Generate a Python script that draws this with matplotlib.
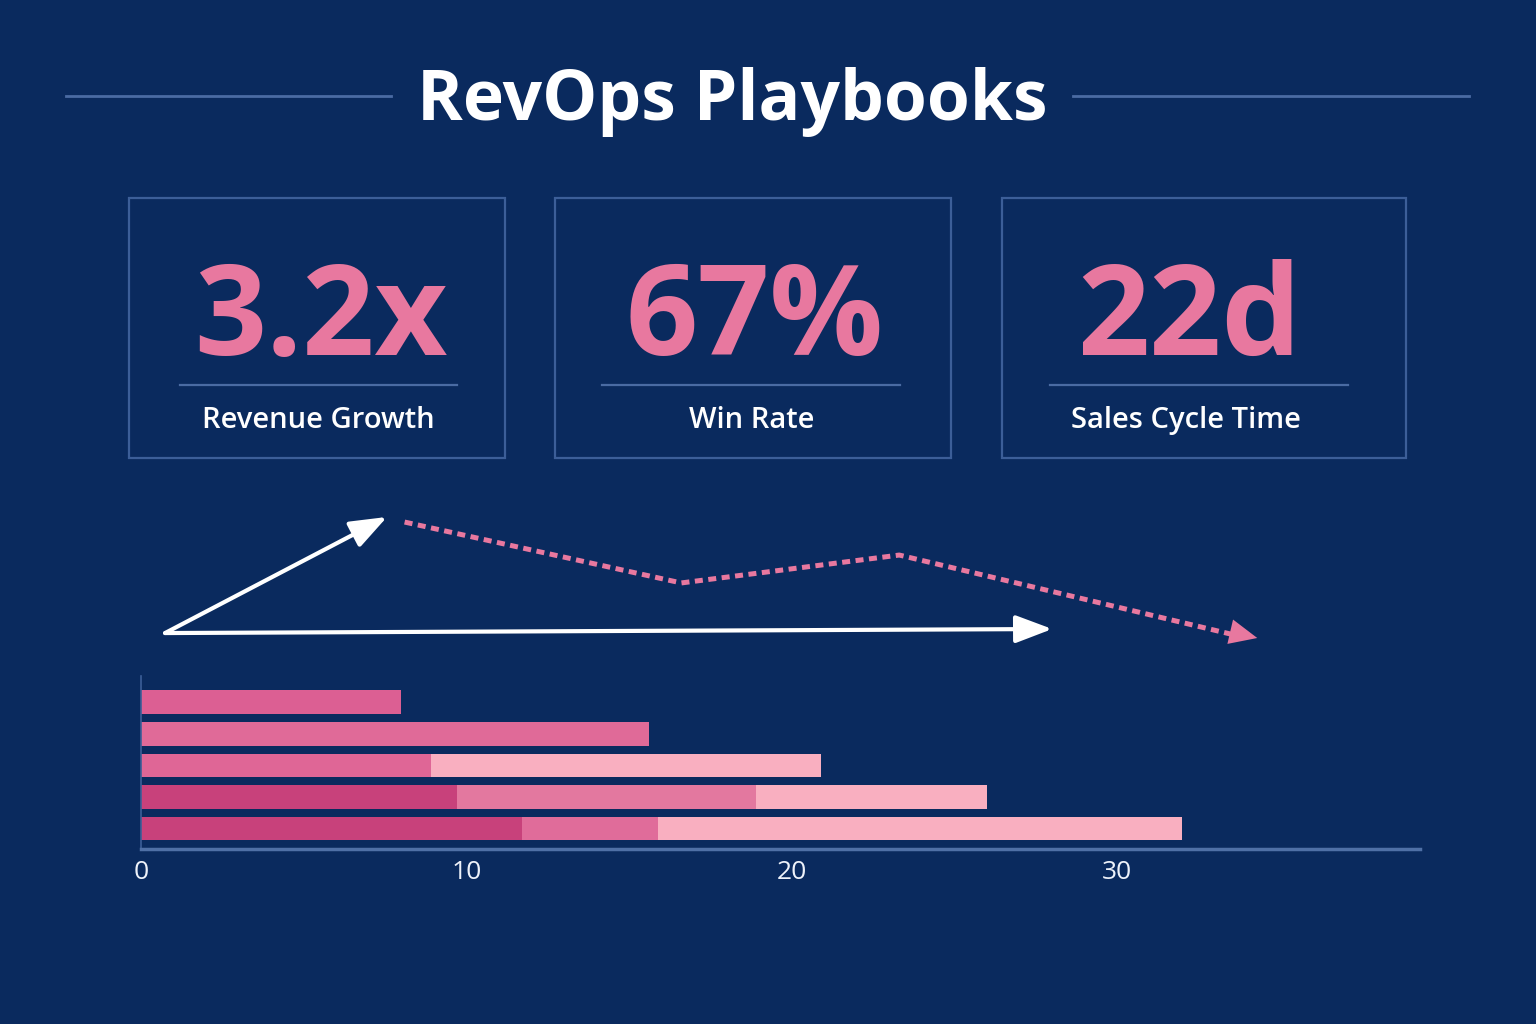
import numpy as np
import matplotlib.pyplot as plt
from matplotlib.patches import Rectangle

# colours
bg = '#0A2A5E'
rule = '#4A6BA3'
frame = '#3C5E98'
pink = '#E8789F'

title = 'RevOps Playbooks'

# KPI cards
kpi_values = ['3.2x', '67%', '22d']
kpi_labels = ['Revenue Growth', 'Win Rate', 'Sales Cycle Time']

# stacked bars, top row first
plays = ['Play 1', 'Play 2', 'Play 3', 'Play 4', 'Play 5']
stage1 = [8.0, 15.6, 8.9, 9.7, 11.7]
stage2 = [0, 0, 12.0, 9.2, 4.2]
stage3 = [0, 0, 0, 7.1, 16.1]
stage1_colors = ['#DC5F93', '#E06A98', '#DF6696', '#C8417B', '#C8417B']
stage2_colors = ['#E06A98', '#E06A98', '#F9AFC0', '#E3789F', '#E06C9A']
stage3_colors = ['#F9AFC0'] * 5
x_ticks = [0, 10, 20, 30]

# trend arrows (same x scale as the bars, y is an index 0-100)
rise_x = [0.74, 7.56]
rise_y = [11.3, 88.7]
base_x = [0.74, 28.0]
base_y = [11.3, 14.0]
trend_x = [8.1, 16.6, 23.3, 34.3]
trend_y = [85.3, 44.7, 63.3, 8.0]

plt.rcParams['font.family'] = ['Open Sans', 'DejaVu Sans']

fig = plt.figure(figsize=(15.36, 10.24), dpi=100, facecolor=bg)

# background / decoration layer in pixel coords
ax = fig.add_axes([0, 0, 1, 1])
ax.set_xlim(0, 1536)
ax.set_ylim(1024, 0)
ax.axis('off')
ax.set_facecolor(bg)

ax.text(732, 120, title, ha='center', va='baseline', color='white',
        fontsize=50, fontweight='bold')
ax.plot([66, 391], [96, 96], color=rule, lw=2)
ax.plot([1073, 1469], [96, 96], color=rule, lw=2)

cards = [(129, 505), (555, 951), (1002, 1406)]
dividers = [(180, 457), (602, 900), (1050, 1348)]
centers = [321, 755, 1189]
for (x0, x1), (d0, d1), cx, val, lab in zip(cards, dividers, centers, kpi_values, kpi_labels):
    ax.add_patch(Rectangle((x0, 198), x1 - x0, 260, fill=False, ec=frame, lw=1.6))
    ax.plot([d0, d1], [385, 385], color=rule, lw=1.6)
    ax.text(cx, 355, val, ha='center', va='baseline', color=pink,
            fontsize=91, fontweight='bold')
    ax.text(cx - 3, 428, lab, ha='center', va='baseline', color='white',
            fontsize=21, fontweight='semibold')

# bar chart
x_max = 39.3
bx = fig.add_axes([141 / 1536, 175 / 1024, 1279 / 1536, 173 / 1024])
bx.set_facecolor('none')
rows = np.arange(len(plays))
h = 0.76
left2 = np.array(stage1)
left3 = left2 + np.array(stage2)
bx.barh(rows, stage1, height=h, color=stage1_colors)
bx.barh(rows, stage2, left=left2, height=h, color=stage2_colors)
bx.barh(rows, stage3, left=left3, height=h, color=stage3_colors)
bx.set_xlim(0, x_max)
bx.set_ylim(4.65, -0.84)
bx.set_yticks([])
bx.set_xticks(x_ticks)
bx.tick_params(axis='x', length=0, pad=8, labelsize=19, labelcolor='#EEF2FA')
for s in ['top', 'right']:
    bx.spines[s].set_visible(False)
bx.spines['bottom'].set_color('#4F70A6')
bx.spines['bottom'].set_linewidth(2.5)
bx.spines['left'].set_color(frame)
bx.spines['left'].set_linewidth(1.2)

# trend arrows
tx = fig.add_axes([141 / 1536, 374 / 1024, 1279 / 1536, 150 / 1024])
tx.set_xlim(0, x_max)
tx.set_ylim(0, 100)
tx.axis('off')
for xs, ys in [(rise_x, rise_y), (base_x, base_y)]:
    tx.annotate('', xy=(xs[1], ys[1]), xytext=(xs[0], ys[0]),
                arrowprops=dict(arrowstyle='-|>,head_length=0.45,head_width=0.17',
                                mutation_scale=50, color='white', lw=3,
                                shrinkA=0, shrinkB=0))
tx.plot(trend_x[:-1] + [trend_x[-1] - 0.6], trend_y[:-1] + [trend_y[-1] + 1.5],
        color=pink, lw=3.6, dashes=(1.6, 1.1), solid_capstyle='butt')
tx.annotate('', xy=(trend_x[-1], trend_y[-1]), xytext=(trend_x[-2], trend_y[-2]),
            arrowprops=dict(arrowstyle='-|>,head_length=0.4,head_width=0.18',
                            mutation_scale=50, color=pink, lw=0,
                            shrinkA=0, shrinkB=0))

fig.savefig('out.png', dpi=100, facecolor=bg)
